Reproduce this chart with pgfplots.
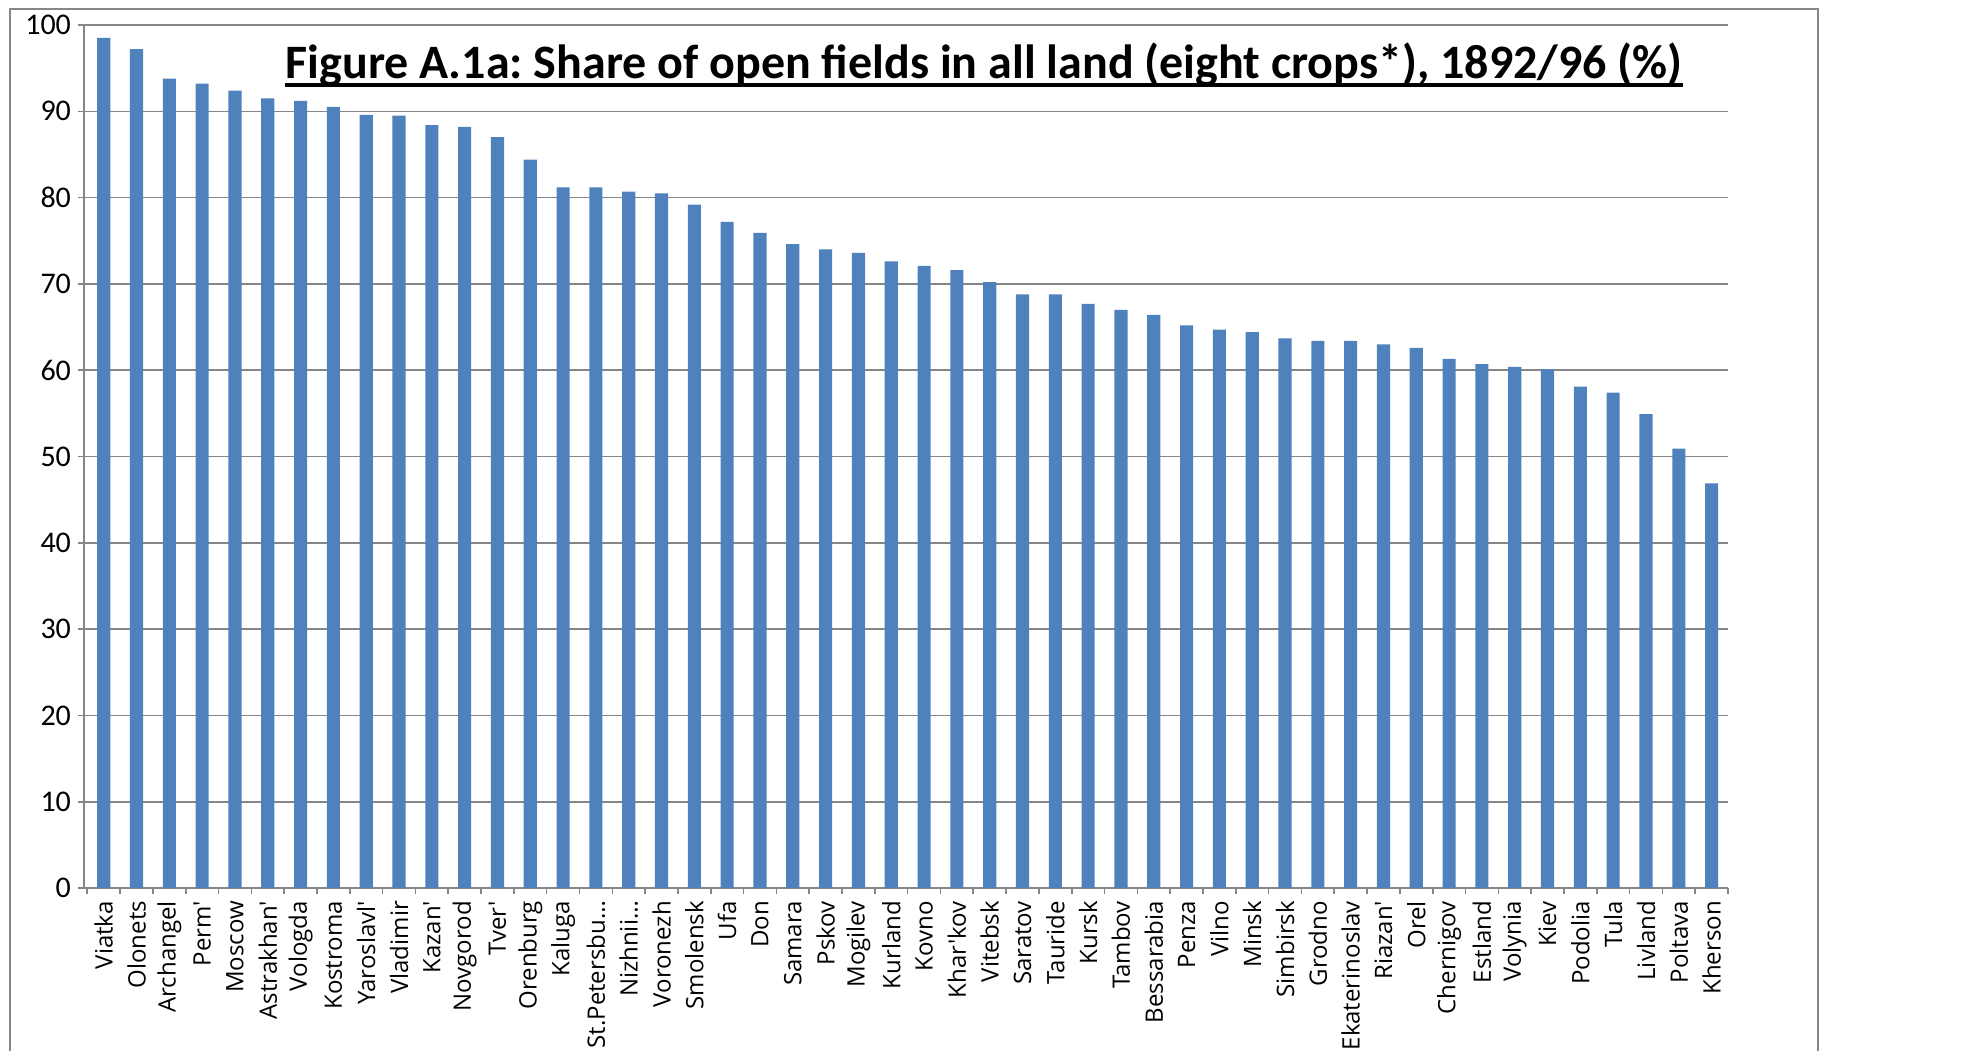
\documentclass[border=0pt]{standalone}
\usepackage{fontspec}
\setmainfont{Carlito}
\newfontfamily\labelfont{Open Sans}
\usepackage{pgfplots}
\usepackage{pgfplotstable}
\pgfplotsset{compat=1.18}
\definecolor{barblue}{HTML}{4F81BD}
\definecolor{gridgray}{HTML}{868686}
\frenchspacing

% share of open fields, one row per province (order as plotted)
\pgfplotstableread{
idx share
0 98.5
1 97.2
2 93.8
3 93.2
4 92.4
5 91.5
6 91.2
7 90.5
8 89.6
9 89.5
10 88.4
11 88.2
12 87.0
13 84.4
14 81.2
15 81.2
16 80.7
17 80.5
18 79.2
19 77.2
20 75.9
21 74.6
22 74.0
23 73.6
24 72.6
25 72.1
26 71.6
27 70.2
28 68.8
29 68.8
30 67.7
31 67.0
32 66.4
33 65.2
34 64.7
35 64.4
36 63.7
37 63.4
38 63.4
39 63.0
40 62.6
41 61.3
42 60.7
43 60.4
44 60.1
45 58.1
46 57.4
47 54.9
48 50.9
49 46.9
}\shares

\begin{document}
\begin{tikzpicture}
\path[use as bounding box] (0,0) rectangle (981.5pt,-525pt);
\draw[gridgray, line width=0.8pt] (5pt,-530pt) -- (5pt,-4.5pt) -- (909pt,-4.5pt) -- (909pt,-530pt);
\begin{axis}[
    at={(42pt,-444pt)}, anchor=south west,
    scale only axis, width=822pt, height=431.5pt,
    ymin=0, ymax=100, ytick={0,10,...,100},
    xmin=-0.6, xmax=49.5,
    xtick={0,...,49},
    xticklabels={Viatka,Olonets,Archangel,Perm',Moscow,Astrakhan',Vologda,Kostroma,Yaroslavl',Vladimir,Kazan',Novgorod,Tver',Orenburg,Kaluga,St.Petersbu…,Nizhnii…,Voronezh,Smolensk,Ufa,Don,Samara,Pskov,Mogilev,Kurland,Kovno,Khar'kov,Vitebsk,Saratov,Tauride,Kursk,Tambov,Bessarabia,Penza,Vilno,Minsk,Simbirsk,Grodno,Ekaterinoslav,Riazan',Orel,Chernigov,Estland,Volynia,Kiev,Podolia,Tula,Livland,Poltava,Kherson},
    extra x ticks={-0.5,0.5,...,49.5},
    extra x tick labels={},
    extra x tick style={grid=none, xtick style={draw=gridgray, line width=0.8pt}},
    xtick style={draw=none},
    ytick style={draw=gridgray, line width=0.8pt},
    major tick length=3pt, tick align=outside,
    axis x line*=bottom, axis y line*=left,
    axis line style={gridgray, line width=0.8pt, -},
    ymajorgrids, grid style={gridgray, line width=0.8pt},
    /pgf/number format/assume math mode=true,
    yticklabel style={font=\fontsize{15}{17}\selectfont, black},
    xticklabel style={font=\labelfont\fontsize{12}{14}\selectfont, black, rotate=90, anchor=east},
    ]
    \addplot[ybar, bar width=0.4, fill=barblue, draw=none] table[x=idx, y=share] {\shares};
\end{axis}
\node[anchor=base, inner sep=0pt, font=\fontsize{24}{28}\selectfont\bfseries] (t) at (492pt,-39pt)
    {Figure A.1a: Share of open fields in all land (eight crops*), 1892/96 (\%)};
\draw[line width=1.6pt] ([yshift=-3.5pt]t.base west) -- ([yshift=-3.5pt]t.base east);
\end{tikzpicture}
\end{document}
